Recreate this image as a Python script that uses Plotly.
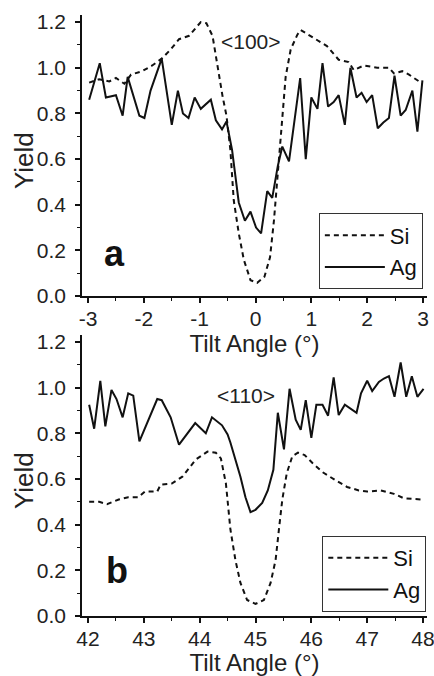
import plotly.graph_objects as go
from plotly.subplots import make_subplots

# ---- Panel a: <100> ----
si_a_x = [-2.98, -2.80, -2.62, -2.50, -2.35, -2.23, -2.03, -1.85, -1.68, -1.52, -1.37, -1.19,
          -0.98, -0.88, -0.77, -0.68, -0.59, -0.52, -0.45, -0.39, -0.30, -0.21, -0.09, 0.03,
          0.16, 0.26, 0.33, 0.40, 0.48, 0.54, 0.63, 0.75, 0.81, 1.05, 1.28, 1.49, 1.67, 1.76,
          1.94, 2.18, 2.39, 2.48, 2.63, 2.75, 2.99]
si_a_y = [0.935, 0.95, 0.94, 0.955, 0.93, 0.97, 0.985, 1.01, 1.04, 1.08, 1.125, 1.14,
          1.20, 1.195, 1.14, 1.005, 0.875, 0.79, 0.64, 0.42, 0.275, 0.16, 0.07, 0.058,
          0.085, 0.17, 0.33, 0.54, 0.79, 0.96, 1.08, 1.145, 1.165, 1.13, 1.095, 1.035, 1.025, 0.99,
          1.01, 1.00, 1.00, 0.975, 0.985, 0.97, 0.93]

ag_a_x = [-2.98, -2.79, -2.68, -2.50, -2.38, -2.29, -2.08, -1.99, -1.88, -1.68, -1.50, -1.39,
          -1.30, -1.20, -1.09, -0.98, -0.80, -0.71, -0.60, -0.52, -0.42, -0.30, -0.19, -0.09,
          0.01, 0.10, 0.21, 0.30, 0.40, 0.48, 0.60, 0.80, 0.90, 1.00, 1.11, 1.20, 1.30, 1.40,
          1.49, 1.60, 1.70, 1.81, 1.90, 1.99, 2.09, 2.19, 2.29, 2.39, 2.49, 2.60, 2.69, 2.81,
          2.90, 2.99]
ag_a_y = [0.86, 1.02, 0.87, 0.88, 0.79, 0.96, 0.79, 0.78, 0.90, 1.04, 0.75, 0.90,
          0.80, 0.78, 0.87, 0.82, 0.86, 0.77, 0.73, 0.765, 0.64, 0.41, 0.33, 0.37,
          0.30, 0.275, 0.46, 0.43, 0.57, 0.655, 0.59, 0.955, 0.60, 0.87, 0.82, 1.02, 0.83, 0.85,
          0.88, 0.75, 1.00, 0.87, 0.89, 0.85, 0.88, 0.735, 0.76, 0.78, 0.965, 0.79, 0.815, 0.90,
          0.72, 0.945]

# ---- Panel b: <110> ----
si_b_x = [42.02, 42.20, 42.34, 42.55, 42.72, 42.90, 43.02, 43.24, 43.30, 43.50, 43.69, 43.93,
          44.14, 44.29, 44.38, 44.47, 44.55, 44.64, 44.73, 44.85, 45.00, 45.15, 45.27, 45.36,
          45.42, 45.48, 45.56, 45.66, 45.76, 45.88, 46.02, 46.20, 46.43, 46.64, 46.85, 47.00,
          47.24, 47.48, 47.66, 47.99]
si_b_y = [0.50, 0.50, 0.49, 0.51, 0.52, 0.52, 0.545, 0.545, 0.575, 0.58, 0.61, 0.685,
          0.72, 0.715, 0.69, 0.58, 0.38, 0.245, 0.145, 0.07, 0.053, 0.07, 0.145, 0.245,
          0.38, 0.51, 0.625, 0.70, 0.715, 0.705, 0.67, 0.63, 0.595, 0.565, 0.55, 0.545,
          0.55, 0.535, 0.515, 0.51]

ag_b_x = [42.02, 42.11, 42.22, 42.31, 42.42, 42.51, 42.62, 42.72, 42.81, 42.92, 43.24, 43.32,
          43.48, 43.63, 43.92, 44.11, 44.22, 44.40, 44.50, 44.55, 44.73, 44.82, 44.91, 45.00,
          45.12, 45.22, 45.32, 45.40, 45.51, 45.61, 45.72, 45.81, 45.90, 46.00, 46.09, 46.20,
          46.30, 46.40, 46.49, 46.60, 46.81, 46.89, 47.00, 47.09, 47.21, 47.30, 47.39, 47.49,
          47.60, 47.70, 47.80, 47.90, 48.01]
ag_b_y = [0.925, 0.82, 1.03, 0.83, 0.99, 0.95, 0.87, 0.975, 0.965, 0.765, 0.95, 0.945,
          0.87, 0.75, 0.845, 0.80, 0.87, 0.835, 0.795, 0.76, 0.61, 0.52, 0.455, 0.465,
          0.495, 0.55, 0.64, 0.89, 0.73, 0.995, 0.86, 0.815, 0.945, 0.78, 0.925, 0.925,
          0.877, 1.045, 0.88, 0.925, 0.89, 0.975, 1.03, 0.985, 1.025, 1.04, 1.05, 0.96,
          1.11, 0.96, 1.05, 0.96, 0.995]

xa_ticks = [-3, -2, -1, 0, 1, 2, 3]
xa_labels = ["-3", "-2", "-1", "0", "1", "2", "3"]
xb_ticks = [42, 43, 44, 45, 46, 47, 48]
xb_labels = ["42", "43", "44", "45", "46", "47", "48"]

FONT = "Liberation Sans, Arial, sans-serif"
INK = "#111111"
TXT = "#222222"

fig = make_subplots(rows=2, cols=1, vertical_spacing=0.0645, shared_xaxes=False)

dash_style = "5px,4px"
fig.add_trace(go.Scatter(x=si_a_x, y=si_a_y, mode="lines", name="Si",
                         line=dict(color=INK, width=2, dash=dash_style), legend="legend"), row=1, col=1)
fig.add_trace(go.Scatter(x=ag_a_x, y=ag_a_y, mode="lines", name="Ag",
                         line=dict(color=INK, width=2), legend="legend"), row=1, col=1)
fig.add_trace(go.Scatter(x=si_b_x, y=si_b_y, mode="lines", name="Si",
                         line=dict(color=INK, width=2, dash=dash_style), legend="legend2"), row=2, col=1)
fig.add_trace(go.Scatter(x=ag_b_x, y=ag_b_y, mode="lines", name="Ag",
                         line=dict(color=INK, width=2), legend="legend2"), row=2, col=1)

axis_common = dict(showline=True, linecolor=INK, linewidth=1.5, ticks="outside", ticklen=5,
                   tickwidth=1.5, tickcolor=INK, showgrid=False, zeroline=False, automargin=False,
                   tickfont=dict(family=FONT, size=21, color=TXT), mirror=False,
                   ticklabeloverflow="allow")

fig.update_xaxes(**axis_common)
fig.update_yaxes(**axis_common)

minor_x = dict(ticks="outside", ticklen=3, tickwidth=1.2, tickcolor=INK, dtick=0.5, tick0=0)
minor_y = dict(ticks="outside", ticklen=3, tickwidth=1.2, tickcolor=INK, dtick=0.1, tick0=0)
xtitle_font = dict(family=FONT, size=24, color=TXT)

fig.update_xaxes(row=1, col=1, range=[-3.108, 3.072], tickvals=xa_ticks, ticktext=xa_labels,
                 minor=minor_x, ticklabelstandoff=-2,
                 title=dict(text="Tilt Angle (°)", font=xtitle_font, standoff=0))
fig.update_xaxes(row=2, col=1, range=[41.892, 48.072], tickvals=xb_ticks, ticktext=xb_labels,
                 minor=minor_x, ticklabelstandoff=-2,
                 title=dict(text="Tilt Angle (°)", font=xtitle_font, standoff=0))
for r in (1, 2):
    fig.update_yaxes(row=r, col=1, range=[0, 1.231], dtick=0.2, tick0=0, tickformat=".1f",
                     minor=minor_y, ticklabelstandoff=5)

# y-axis titles (placed precisely)
ytitle_font = dict(family=FONT, size=26, color=TXT)
fig.add_annotation(x=-0.168, y=0.757, xref="paper", yref="paper", text="Yield", textangle=-90,
                   showarrow=False, xanchor="center", yanchor="middle", font=ytitle_font)
fig.add_annotation(x=-0.168, y=0.2246, xref="paper", yref="paper", text="Yield", textangle=-90,
                   showarrow=False, xanchor="center", yanchor="middle", font=ytitle_font)

# panel labels and direction labels
fig.add_annotation(x=-2.52, y=0.185, xref="x", yref="y", text="<b>a</b>", showarrow=False,
                   font=dict(family=FONT, size=36, color=INK))
fig.add_annotation(x=42.52, y=0.2, xref="x2", yref="y2", text="<b>b</b>", showarrow=False,
                   font=dict(family=FONT, size=36, color=INK))
fig.add_annotation(x=-0.08, y=1.115, xref="x", yref="y", text="&lt;100&gt;", showarrow=False,
                   font=dict(family=FONT, size=21, color=TXT))
fig.add_annotation(x=44.83, y=0.965, xref="x2", yref="y2", text="&lt;110&gt;", showarrow=False,
                   font=dict(family=FONT, size=21, color=TXT))

leg_common = dict(bgcolor="white", bordercolor="#333333", borderwidth=1,
                  font=dict(family=FONT, size=22, color=INK), itemwidth=60,
                  tracegroupgap=0, xanchor="right", yanchor="middle")
fig.update_layout(
    width=434, height=676,
    margin=dict(l=82, r=7, t=15, b=60),
    paper_bgcolor="white", plot_bgcolor="white",
    showlegend=True,
    legend=dict(x=0.988, y=0.6065, **leg_common),
    legend2=dict(x=0.998, y=0.0699, **leg_common),
)

fig.write_html("out.html", config={"displayModeBar": False},
               post_script="document.body.style.margin='0';document.body.style.padding='0';")
